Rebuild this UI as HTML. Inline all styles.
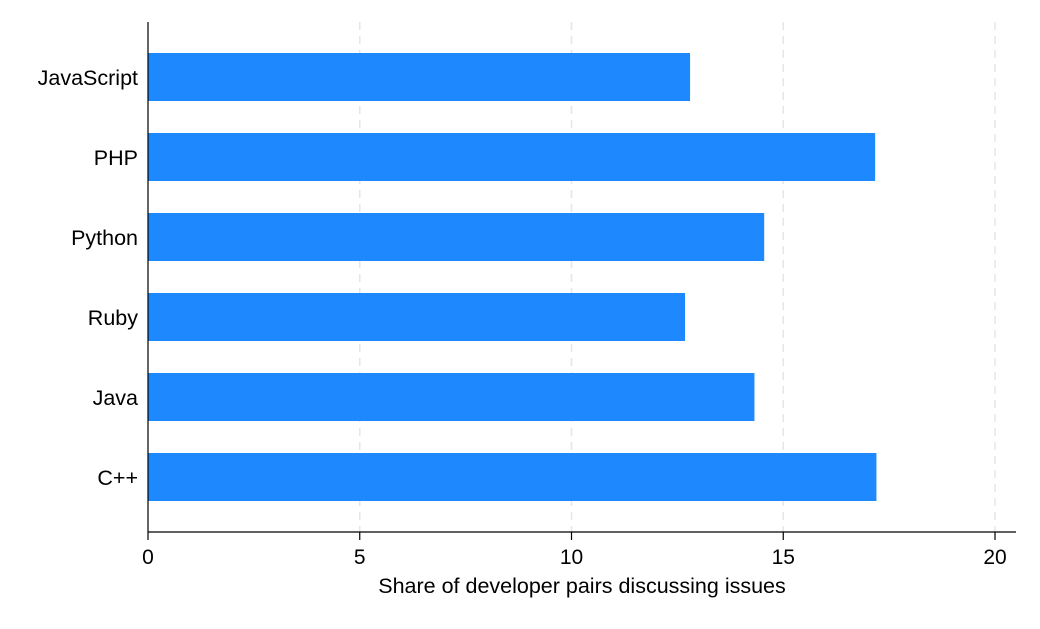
<!DOCTYPE html>
<html><head><meta charset="utf-8"><style>
body{margin:0;background:#fff;}
svg text{font-family:"Liberation Sans",Arial,sans-serif;fill:#000;}
</style></head><body>
<svg id="chart" width="1040" height="624" xmlns="http://www.w3.org/2000/svg">
<g id="grid"></g>
<g id="bars"></g>
<line x1="148" y1="22" x2="148" y2="532" stroke="#000" stroke-width="1.2"/>
<line x1="148" y1="532" x2="1016" y2="532" stroke="#000" stroke-width="1.2"/>
<g id="xticks"></g>
<g id="ylabels"></g>
<text x="582" y="593" font-size="21.5" text-anchor="middle">Share of developer pairs discussing issues</text>
</svg>
<script>
const categories=["JavaScript","PHP","Python","Ruby","Java","C++"];
const values=[12.8,17.17,14.55,12.68,14.32,17.2];
const tickValues=[0,5,10,15,20];
const tickLabels=["0","5","10","15","20"];
const NS="http://www.w3.org/2000/svg";
const x0=148,pxPer=(995-148)/20;
function xs(v){return x0+v*pxPer;}
function yc(i){return 77+i*80;}
const barH=48;
function mk(tag,attrs,parent){const e=document.createElementNS(NS,tag);for(const k in attrs)e.setAttribute(k,attrs[k]);parent.appendChild(e);return e;}
const grid=document.getElementById('grid'),bars=document.getElementById('bars'),xt=document.getElementById('xticks'),yl=document.getElementById('ylabels');
tickValues.forEach((t,i)=>{
  if(t>0){const g=mk('line',{x1:xs(t),x2:xs(t),y1:22,y2:532,stroke:'#e6e6e6','stroke-width':1.5,'stroke-dasharray':'8,6'},grid);
  
  }
  const tk=mk('line',{x1:xs(t),x2:xs(t),y1:532,y2:540,stroke:'#000','stroke-width':1.2},xt);
  
  
  const tl=mk('text',{x:xs(t),y:564,'font-size':21,'text-anchor':'middle'},xt);
  tl.textContent=tickLabels[i];
  
  
});
categories.forEach((c,i)=>{
  const r=mk('rect',{x:x0,y:yc(i)-barH/2,width:xs(values[i])-x0,height:barH,fill:'#1e88ff'},bars);
  
  
  const t=mk('text',{x:138,y:yc(i)+8,'font-size':21.5,'text-anchor':'end'},yl);
  t.textContent=c;
  
  
});
</script>
</body></html>
